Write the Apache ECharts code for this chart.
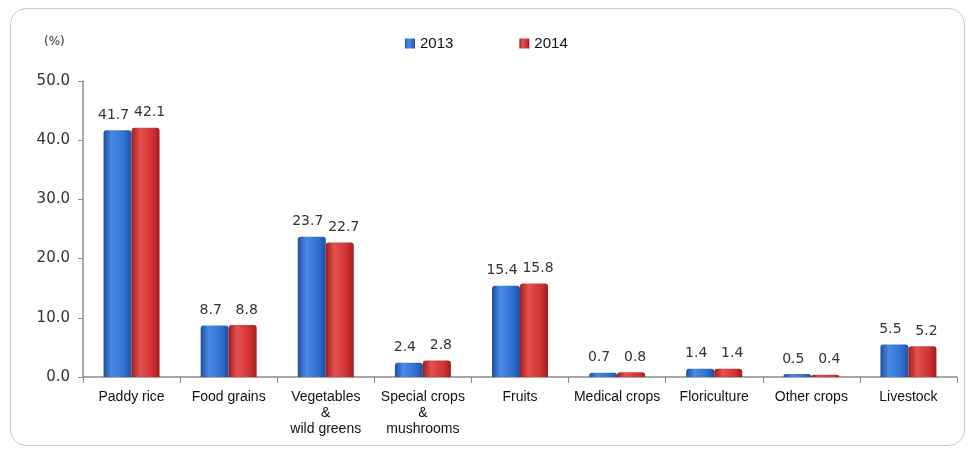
<!DOCTYPE html>
<html>
<head>
<meta charset="utf-8">
<script src="https://cdn.jsdelivr.net/npm/echarts@6/dist/echarts.min.js"></script>
<style>
	html, body { margin: 0; padding: 0; background: #fff; }
	#frame {
		position: absolute; left: 10px; top: 8px; width: 955px; height: 438px;
		border: 1.5px solid #c8c8c8; border-radius: 16px; box-sizing: border-box;
	}
	#main { position: absolute; left: 0; top: 0; width: 968px; height: 450px; }
</style>
</head>
<body>
<div id="frame"></div>
<div id="main"></div>
<script>
	// 作物类别
	var categories = ['Paddy rice', 'Food grains', 'Vegetables\n&\nwild greens', 'Special crops\n&\nmushrooms',
		'Fruits', 'Medical crops', 'Floriculture', 'Other crops', 'Livestock'];
	var values2013 = [41.7, 8.7, 23.7, 2.4, 15.4, 0.7, 1.4, 0.5, 5.5];
	var values2014 = [42.1, 8.8, 22.7, 2.8, 15.8, 0.8, 1.4, 0.4, 5.2];
	var yTicks = [0, 10, 20, 30, 40, 50];

	function barColor(dark, mid, light) {
		return new echarts.graphic.LinearGradient(0, 0, 1, 0, [
			{ offset: 0, color: dark },
			{ offset: 0.3, color: light },
			{ offset: 0.75, color: mid },
			{ offset: 1, color: dark }
		]);
	}

	function labelStyle(dx) {
		return {
			show: true,
			position: 'top',
			distance: 8,
			offset: [dx, 0],
			color: '#333',
			fontSize: 14,
			fontFamily: 'DejaVu Sans',
			formatter: function (p) { return p.value.toFixed(1); }
		};
	}

	var chart = echarts.init(document.getElementById('main'));
	var option = {
		animation: false,
		grid: { left: 83, right: 11, top: 81, bottom: 73 },
		legend: {
			top: 31,
			left: 400,
			itemGap: 66,
			itemWidth: 10,
			itemHeight: 10,
			icon: 'rect',
			textStyle: { fontFamily: 'Liberation Sans', fontSize: 15, color: '#111' },
			data: ['2013', '2014']
		},
		graphic: [{
			type: 'text', left: 44, top: 36,
			style: { text: '(%)', fontFamily: 'DejaVu Sans', fontSize: 12, fill: '#333' }
		}],
		xAxis: {
			type: 'category',
			data: categories,
			axisLine: { lineStyle: { color: '#8c8c8c', width: 1.5 } },
			axisTick: { show: true, length: 6, lineStyle: { color: '#8c8c8c' } },
			axisLabel: {
				margin: 12, interval: 0, color: '#111', fontSize: 14, lineHeight: 16,
				fontFamily: 'Liberation Sans'
			}
		},
		yAxis: {
			type: 'value',
			min: yTicks[0],
			max: yTicks[yTicks.length - 1],
			interval: 10,
			splitLine: { show: false },
			axisLine: { show: true, lineStyle: { color: '#8c8c8c', width: 1.5 } },
			axisTick: { show: true, length: 5, lineStyle: { color: '#8c8c8c' } },
			axisLabel: {
				margin: 13, color: '#333', fontSize: 15, fontFamily: 'DejaVu Sans',
				formatter: function (v) { return v.toFixed(1); }
			}
		},
		series: [
			{
				name: '2013',
				type: 'bar',
				barWidth: 28,
				barGap: '0%',
				itemStyle: {
					color: barColor('#1d4fa0', '#2f6fd0', '#4a8ae6'),
					borderRadius: [3, 3, 0, 0]
				},
				label: labelStyle(-4),
				data: values2013
			},
			{
				name: '2014',
				type: 'bar',
				barWidth: 28,
				barGap: '0%',
				itemStyle: {
					color: barColor('#a01e1e', '#d03232', '#e55050'),
					borderRadius: [3, 3, 0, 0]
				},
				label: labelStyle(4),
				data: values2014
			}
		]
	};
	chart.setOption(option);
</script>
</body>
</html>
